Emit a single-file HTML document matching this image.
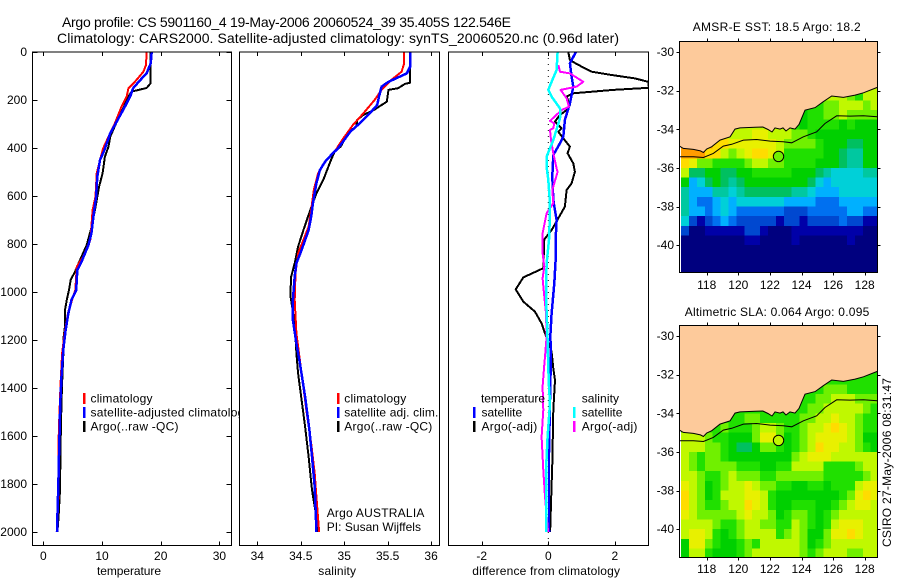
<!DOCTYPE html>
<html>
<head>
<meta charset="utf-8">
<title>Argo profile</title>
<style>
html,body{margin:0;padding:0;background:#fff;}
svg{display:block;}
text{font-family:"Liberation Sans",Arial,sans-serif;fill:#000;}
</style>
</head>
<body>
<svg id="fig" xmlns="http://www.w3.org/2000/svg" width="900" height="580" viewBox="0 0 900 580"></svg>
<script>
/* ---------- depth axis ---------- */
const depthTicks = [0,200,400,600,800,1000,1200,1400,1600,1800,2000];
const tempTicks = [0,10,20,30];
const salTicks = [34,34.5,35,35.5,36];
const salTickLabels = ['34','34.5','35','35.5','36'];
const diffTicks = [-2,0,2];
const lonTicks = [118,120,122,124,126,128];
const latTicks = [-30,-32,-34,-36,-38,-40];

/* ---------- temperature profiles ---------- */
const tempArgoDepth = [0,130,150,165,186,228,276,353,394,436,505,561,658,742,804,867,915,950,989,1033,1075,1142,1200,1262,1360,1457,1630,1825,1936,2000];
const tempArgo = [18.3,18.3,17.6,15.05,14.5,13.75,12.8,11.4,11.1,10.5,10.1,9.5,8.8,8.1,7.4,6.25,5.4,4.66,4.4,4.0,3.7,3.7,3.4,3.4,3.24,3.1,2.95,2.84,2.6,2.4];
const tempSatDepth = [0,47,89,117,151,179,228,290,339,415,450,519,603,672,756,804,874,908,992,1033,1090,1160,1240,1350,1460,1630,1810,1935,2000];
const tempSat = [18.47,18.3,17.6,16.5,15.3,14.9,13.9,12.5,11.4,10.3,9.66,9.2,9.0,8.6,8.2,7.7,6.5,5.8,5.6,4.8,4.26,3.8,3.4,3.1,2.9,2.73,2.56,2.4,2.33];
const tempClimDepth = [0,54,82,124,151,186,235,297,353,401,450,506,603,658,728,783,853,894,992,1026,1082,1160,1256,1380,1547,1658,1825,1964,2000];
const tempClim = [17.6,17.5,17.05,15.6,14.5,14.2,13.2,12.2,11.1,10.2,9.66,9.1,8.9,8.4,8.2,8.0,6.8,5.7,5.45,5.0,4.26,3.7,3.2,2.95,2.7,2.56,2.6,2.4,2.35];

/* ---------- salinity profiles ---------- */
const salArgoDepth = [0,128,133,151,158,207,221,244,262,283,311,332,394,415,457,533,589,658,742,811,880,936,1012,1061,1130,1255,1339,1450,1561,1686,1825,1894,1978,2000];
const salArgo = [35.76,35.76,35.70,35.62,35.51,35.49,35.43,35.33,35.22,35.15,35.14,35.05,34.96,34.89,34.84,34.76,34.68,34.61,34.53,34.47,34.43,34.39,34.38,34.40,34.43,34.45,34.47,34.51,34.55,34.59,34.63,34.66,34.70,34.70];
const salSatDepth = [0,61,89,106,124,144,186,221,249,290,332,401,429,457,492,547,631,686,742,825,880,936,1033,1117,1214,1297,1436,1575,1686,1811,1992,2000];
const salSat = [35.76,35.76,35.72,35.62,35.51,35.43,35.40,35.38,35.31,35.2,35.07,34.93,34.85,34.78,34.72,34.68,34.64,34.62,34.59,34.51,34.45,34.43,34.41,34.41,34.45,34.49,34.55,34.6,34.63,34.66,34.68,34.68];
const salClimDepth = [0,47,82,117,158,200,256,304,360,415,457,506,575,658,728,783,839,922,1033,1172,1339,1506,1631,1756,1853,1992,2000];
const salClim = [35.69,35.69,35.66,35.54,35.43,35.35,35.22,35.10,34.99,34.89,34.78,34.70,34.65,34.62,34.59,34.53,34.47,34.44,34.43,34.45,34.51,34.57,34.62,34.66,34.68,34.71,34.71];

/* ---------- differences from climatology ---------- */
const diffTempArgoDepth = [0,33,50,82,96,110,124,149,158,172,186,221,242,262,290,318,332,360,394,422,464,499,547,575,644,693,742,781,901,939,989,1040,1082,1131,1172,1249,1318,1367,1492,1714,1881,1978,2000];
const diffTempArgo = [0.6,0.65,0.85,1.3,1.9,2.6,3.0,3.02,1.95,0.75,0.55,0.65,0.55,0.35,0.2,0.4,0.3,0.45,0.65,0.58,0.75,0.8,0.7,0.55,0.5,0.3,0.1,-0.12,-0.15,-0.75,-0.98,-0.75,-0.4,-0.2,-0.1,0.1,0.15,0.2,0.15,0.12,0.08,0.06,0.05];
const diffTempSatDepth = [0,47,103,144,214,283,353,380,429,519,617,700,783,867,964,1089,1186,1249,1450,1672,1992,2000];
const diffTempSat = [0.83,0.65,0.7,0.75,0.65,0.5,0.45,0.35,0.15,0.12,0.15,0.25,0.22,0.22,0.18,0.1,0.06,0.08,0.05,0.02,0.02,0.02];
const diffSalSatDepth = [0,75,124,158,186,235,276,367,436,478,533,630,769,881,1019,1158,1318,1394,1464,1603,1742,1992,2000];
const diffSalSat = [0.28,0.25,0.1,0,0.1,0.35,0.35,0.15,-0.05,-0.05,0,0.05,0.03,-0.05,-0.07,-0.03,0,0.02,0.05,-0.02,-0.07,-0.07,-0.07];
const diffSalArgoDepth = [54,82,89,124,144,158,193,228,242,287,297,318,325,367,422,485,499,575,630,672,756,839,894,943,1019,1089,1186,1269,1318,1394,1492,1603,1742,1853,1978,2000];
const diffSalArgo = [0.3,0.35,0.65,1.05,0.85,0.37,0.55,0.62,0.4,0.05,0.18,0.15,0.05,0.08,0.15,0.25,0.28,0.12,0.15,-0.05,-0.17,-0.17,-0.12,-0.17,-0.12,-0.07,-0.05,-0.1,-0.13,-0.17,-0.15,-0.2,-0.15,-0.1,-0.02,0];

/* ---------- map data ---------- */
const coastLon = [116.27,116.52,117.16,117.6,117.79,118.0,118.32,118.84,119.48,119.79,120.11,121.06,121.56,121.88,122.13,122.32,122.64,122.83,123.02,123.27,123.59,123.84,124.22,124.86,125.38,125.91,126.65,127.39,127.92,128.8];
const coastLat = [-34.87,-34.99,-35.04,-35.12,-35.2,-35.02,-34.9,-34.56,-34.39,-33.99,-33.93,-33.9,-33.88,-34.01,-34.14,-33.93,-33.99,-33.93,-34.09,-33.93,-33.99,-33.75,-33.01,-32.88,-32.57,-32.28,-32.35,-32.23,-32.11,-31.83];
const shelfLon = [116.27,117.16,117.79,118.42,119.05,119.58,120.32,121.16,122.01,122.85,123.38,124.12,124.96,125.49,126.23,127.07,127.92,128.8];
const shelfLat = [-35.42,-35.42,-35.46,-35.25,-34.87,-34.78,-34.56,-34.53,-34.61,-34.65,-34.7,-34.39,-34.13,-33.7,-33.3,-33.32,-33.3,-33.35];
const argoLon = 122.546;
const argoLat = -35.405;
const sstArgoLevel = 10;
const slaArgoLevel = 11;
const levelColors = ['#00007f','#0000a8','#0048d0','#0070f0','#00b0ff','#00d0d8','#00c8a0','#00c060','#00d000','#20e000','#70f000','#c0f800','#e8f000','#ffdc00','#ff9c00'];

const sstGrid = [
[11,11,11,11,11,11,11,11,11,11,11,11,11,11,11,11,11,11,11,11,11,10,9,11,11],
[11,11,11,11,11,11,11,11,11,11,11,11,11,11,11,11,11,11,11,11,11,10,9,11,11],
[10,10,10,10,10,10,10,10,10,10,10,10,10,10,10,10,9,9,10,10,11,11,11,10,11],
[9,9,9,9,9,9,9,9,9,9,9,9,9,9,9,8,9,9,10,10,11,10,10,10,10],
[11,11,11,11,11,11,11,11,11,11,11,11,11,11,9,8,9,9,9,9,8,9,8,8,8],
[13,13,13,13,13,12,11,11,11,12,12,11,11,11,10,10,9,8,8,8,8,8,8,8,8],
[14,14,14,14,13,13,12,12,12,12,12,12,11,10,10,10,10,9,8,8,8,7,7,8,8],
[14,14,14,13,13,11,10,11,12,13,13,12,11,9,9,9,9,9,8,8,7,6,6,8,8],
[13,12,10,10,9,9,9,9,10,11,11,10,10,9,9,9,9,8,8,8,7,6,6,8,8],
[11,7,7,8,8,7,7,8,8,9,9,9,9,9,8,8,8,7,6,5,5,5,5,6,6],
[8,4,5,7,8,7,6,7,8,8,8,8,8,8,8,8,7,5,4,5,5,5,5,5,5],
[6,4,4,4,6,6,5,6,7,7,7,7,7,7,6,6,5,4,4,4,5,5,5,5,5],
[6,4,3,3,4,5,4,5,5,5,5,5,5,4,4,4,4,3,3,3,4,4,4,4,4],
[6,4,4,3,4,5,4,3,3,3,3,3,3,2,2,2,3,3,3,3,3,4,4,3,3],
[5,2,1,2,3,4,3,2,2,2,2,2,1,2,2,1,2,2,2,2,3,2,2,1,1],
[2,0,0,1,1,1,1,1,2,2,1,0,0,0,1,1,1,1,1,1,1,1,1,0,0],
[0,0,0,0,0,0,0,0,1,1,0,0,0,0,1,0,0,0,0,0,0,1,0,0,0],
[0,0,0,0,0,0,0,0,0,0,0,0,0,0,0,0,0,0,0,0,0,0,0,0,0],
[0,0,0,0,0,0,0,0,0,0,0,0,0,0,0,0,0,0,0,0,0,0,0,0,0],
[0,0,0,0,0,0,0,0,0,0,0,0,0,0,0,0,0,0,0,0,0,0,0,0,0]
];

const slaGrid = [
[9,9,9,9,9,9,9,9,9,9,9,9,9,9,9,9,9,9,9,9,9,9,9,9,9],
[9,9,9,9,9,9,9,9,9,9,9,9,9,9,9,9,9,9,9,9,9,9,9,9,9],
[9,9,9,9,9,9,9,9,9,9,9,9,9,9,9,9,9,9,10,10,10,9,9,9,9],
[9,9,9,9,9,9,9,9,9,9,9,9,9,9,9,9,9,10,10,11,11,11,10,10,10],
[9,9,9,9,9,9,9,9,9,9,9,9,9,9,9,9,10,10,11,11,11,11,11,10,9],
[9,9,9,9,9,9,9,9,10,10,9,9,9,9,9,10,10,11,11,12,11,11,10,9,9],
[9,9,9,9,9,10,9,9,9,10,11,11,10,9,9,10,11,11,12,13,12,11,10,9,9],
[11,11,11,10,9,9,8,8,8,10,12,12,10,8,9,10,11,12,12,12,12,11,10,8,8],
[11,11,11,10,10,9,8,7,7,8,10,10,9,8,9,10,11,13,12,12,11,11,10,9,8],
[11,10,9,10,10,9,8,8,8,8,8,8,8,8,10,11,12,12,12,11,11,11,11,11,11],
[11,10,9,10,10,10,10,9,9,9,8,8,9,9,11,11,11,11,9,9,9,9,10,11,11],
[11,11,10,9,9,10,11,10,10,10,9,9,10,10,10,10,10,10,9,9,9,9,9,10,11],
[12,11,10,8,9,10,11,11,12,11,10,10,9,9,8,8,9,9,8,9,9,9,11,12,12],
[13,11,10,8,9,11,11,11,12,12,11,9,8,8,8,8,8,8,8,8,9,10,12,13,12],
[13,11,10,9,9,10,11,11,13,12,11,9,8,8,9,9,9,8,8,9,10,11,12,12,11],
[12,11,10,10,10,10,10,11,12,11,11,10,8,9,10,10,9,8,9,10,11,11,11,11,11],
[11,11,11,11,10,9,9,10,11,11,10,10,9,9,11,10,9,8,9,11,12,12,12,11,11],
[11,12,12,11,9,8,9,10,11,11,11,11,9,10,11,10,8,8,10,12,12,13,12,11,11],
[8,12,12,10,9,8,8,9,10,9,11,11,11,11,11,10,8,9,10,11,11,11,11,11,11],
[8,11,11,9,8,8,8,9,10,11,11,11,11,11,11,10,9,10,11,11,11,10,10,11,11]
];

/* ---------- drawing ---------- */
const NS = 'http://www.w3.org/2000/svg';
const fig = document.getElementById('fig');

function make(tag, parent, attrs) {
  const el = document.createElementNS(NS, tag);
  for (const k in attrs) el.setAttribute(k, attrs[k]);
  parent.appendChild(el);
  return el;
}

function label(parent, x, y, str, name, anchor, len, size, rotate) {
  const el = make('text', parent, {x: x, y: y, 'font-size': size || 12, 'text-anchor': anchor || 'start'});
  if (len) {
    el.setAttribute('textLength', len);
    el.setAttribute('lengthAdjust', 'spacing');
  }
  if (rotate) el.setAttribute('transform', 'rotate(' + rotate + ' ' + x + ' ' + y + ')');
  
  
  el.textContent = str;
  return el;
}

function tick(parent, x1, y1, x2, y2, name) {
  const el = make('line', parent, {x1: x1, y1: y1, x2: x2, y2: y2, stroke: '#000', 'stroke-width': 1, 'shape-rendering': 'crispEdges'});
  
  
}

function frame(parent, x0, x1, y0, y1, name) {
  const el = make('rect', parent, {x: x0, y: y0, width: x1 - x0, height: y1 - y0, fill: 'none', stroke: '#000', 'stroke-width': 1, 'shape-rendering': 'crispEdges'});
  
  
}

const TOP = 52, BOTTOM = 545.5;
function yDepth(d) { return 52 + d * 0.24; }

function clipFor(id, x0, x1, y0, y1) {
  const c = make('clipPath', fig, {id: id});
  make('rect', c, {x: x0, y: y0, width: x1 - x0, height: y1 - y0});
  return 'url(#' + id + ')';
}

function panel(name, x0, x1, xScale, ticks, tickText, withDepth) {
  const g = make('g', fig, {});
  
  
  const bg = make('rect', g, {x: x0, y: TOP, width: x1 - x0, height: BOTTOM - TOP, fill: '#fff'});
  
  
  ticks.forEach(function (t, i) {
    const x = Math.round(xScale(t)) + 0.5;
    tick(g, x, TOP, x, TOP + 4, 'x-tick-top');
    tick(g, x, BOTTOM, x, BOTTOM - 4, 'x-tick-bottom');
    label(g, xScale(t), 560, tickText[i], 'x-tick-label', 'middle');
  });
  if (withDepth) {
    depthTicks.forEach(function (d) {
      const y = Math.round(yDepth(d)) + 0.5;
      tick(g, x0, y, x0 + 5, y, 'y-tick-left');
      tick(g, x1, y, x1 - 5, y, 'y-tick-right');
      label(g, 27, yDepth(d) + 4, String(d), 'depth-tick-label', 'end');
    });
  }
  return g;
}

function series(parent, clip, xScale, depths, values, color, width, name) {
  const pts = depths.map(function (d, i) { return xScale(values[i]).toFixed(1) + ',' + yDepth(d).toFixed(1); }).join(' ');
  const el = make('polyline', parent, {points: pts, fill: 'none', stroke: color, 'stroke-width': width, 'stroke-linejoin': 'round', 'shape-rendering': 'crispEdges', 'clip-path': clip});
  
  
}

function swatch(parent, x, y, color, name) {
  const el = make('rect', parent, {x: x, y: y, width: 2.5, height: 11, fill: color, 'shape-rendering': 'crispEdges'});
  
  
}

/* temperature panel */
function xTemp(v) { return 43.3 + v * 5.87; }
const clip1 = clipFor('clip-temp', 32.5, 231.5, TOP, BOTTOM);
const p1 = panel('temperature-panel', 32.5, 231.5, xTemp, tempTicks, tempTicks.map(String), true);
series(p1, clip1, xTemp, tempArgoDepth, tempArgo, '#000', 2, 'temperature-argo-line');
series(p1, clip1, xTemp, tempClimDepth, tempClim, '#ff0000', 2, 'temperature-climatology-line');
series(p1, clip1, xTemp, tempSatDepth, tempSat, '#0000ff', 2.5, 'temperature-satellite-line');
frame(p1, 32.5, 231.5, TOP, BOTTOM, 'temperature-axes-frame');
swatch(p1, 83, 393, '#ff0000', 'legend-swatch-climatology');
swatch(p1, 83, 407, '#0000ff', 'legend-swatch-satellite');
swatch(p1, 83, 421, '#000', 'legend-swatch-argo');
label(p1, 90.5, 402.5, 'climatology', 'legend-label-climatology', 'start', 62);
label(p1, 90.5, 416.5, 'satellite-adjusted climatology', 'legend-label-satellite', 'start', 160);
label(p1, 90.5, 430.5, 'Argo(..raw -QC)', 'legend-label-argo', 'start', 88);
label(p1, 97, 575, 'temperature', 'temperature-axis-title', 'start', 64);

/* salinity panel */
function xSal(v) { return 257.3 + (v - 34) * 86.9; }
const clip2 = clipFor('clip-sal', 239.5, 439.5, TOP, BOTTOM);
const p2 = panel('salinity-panel', 239.5, 439.5, xSal, salTicks, salTickLabels, false);
series(p2, clip2, xSal, salArgoDepth, salArgo, '#000', 2, 'salinity-argo-line');
series(p2, clip2, xSal, salClimDepth, salClim, '#ff0000', 2, 'salinity-climatology-line');
series(p2, clip2, xSal, salSatDepth, salSat, '#0000ff', 2.5, 'salinity-satellite-line');
frame(p2, 239.5, 439.5, TOP, BOTTOM, 'salinity-axes-frame');
swatch(p2, 337, 393, '#ff0000', 'legend-swatch-climatology');
swatch(p2, 337, 407, '#0000ff', 'legend-swatch-satellite');
swatch(p2, 337, 421, '#000', 'legend-swatch-argo');
label(p2, 344.3, 402.5, 'climatology', 'legend-label-climatology', 'start', 62);
label(p2, 344.3, 416.5, 'satellite adj. clim.', 'legend-label-satellite', 'start', 94);
label(p2, 344.3, 430.5, 'Argo(..raw -QC)', 'legend-label-argo', 'start', 88);
label(p2, 326.7, 517, 'Argo AUSTRALIA', 'float-program-label', 'start', 97.7);
label(p2, 326.7, 531, 'PI: Susan Wijffels', 'principal-investigator-label', 'start', 94.3);
label(p2, 318.3, 575, 'salinity', 'salinity-axis-title', 'start', 37.7);

/* difference panel */
function xDiff(v) { return 548.3 + v * 33.3; }
const clip3 = clipFor('clip-diff', 448.5, 648.5, TOP, BOTTOM);
const p3 = panel('difference-panel', 448.5, 648.5, xDiff, diffTicks, diffTicks.map(String), false);
const zeroLine = make('line', p3, {x1: xDiff(0), y1: TOP, x2: xDiff(0), y2: BOTTOM, stroke: '#000', 'stroke-width': 1, 'stroke-dasharray': '1 5'});


series(p3, clip3, xDiff, diffTempArgoDepth, diffTempArgo, '#000', 2, 'temperature-argo-difference-line');
series(p3, clip3, xDiff, diffTempSatDepth, diffTempSat, '#0000ff', 2.5, 'temperature-satellite-difference-line');
series(p3, clip3, xDiff, diffSalArgoDepth, diffSalArgo, '#ff00ff', 2, 'salinity-argo-difference-line');
series(p3, clip3, xDiff, diffSalSatDepth, diffSalSat, '#00ffff', 2.5, 'salinity-satellite-difference-line');
frame(p3, 448.5, 648.5, TOP, BOTTOM, 'difference-axes-frame');
swatch(p3, 473, 407, '#0000ff', 'legend-swatch-temperature-satellite');
swatch(p3, 473, 421, '#000', 'legend-swatch-temperature-argo');
swatch(p3, 573, 407, '#00ffff', 'legend-swatch-salinity-satellite');
swatch(p3, 573, 421, '#ff00ff', 'legend-swatch-salinity-argo');
label(p3, 481, 402.5, 'temperature', 'legend-heading-temperature', 'start', 64);
label(p3, 481.5, 416.5, 'satellite', 'legend-label-temperature-satellite', 'start', 40.7);
label(p3, 481.5, 430.5, 'Argo(-adj)', 'legend-label-temperature-argo', 'start', 55.7);
label(p3, 581.7, 402.5, 'salinity', 'legend-heading-salinity', 'start', 37.3);
label(p3, 581.7, 416.5, 'satellite', 'legend-label-salinity-satellite', 'start', 40.7);
label(p3, 581.7, 430.5, 'Argo(-adj)', 'legend-label-salinity-argo', 'start', 55.7);
label(p3, 472.3, 575, 'difference from climatology', 'difference-axis-title', 'start', 147.7);

/* maps */
function drawMap(name, grid, top, bottom, lat30Y, argoLevel, titleStr, titleX, titleLen, titleY, lonLabelY) {
  const L = 679.5, R = 877.5;
  function xLon(lon) { return 706.7 + (lon - 118) * 15.8; }
  function yLat(lat) { return lat30Y + (-30 - lat) * 19.32; }
  const g = make('g', fig, {});
  
  
  const clip = clipFor('clip-' + name, L, R, top, bottom);
  const cells = make('g', g, {'clip-path': clip});
  
  
  grid.forEach(function (row, j) {
    row.forEach(function (level, i) {
      const lon0 = 116.38 + i * 0.5;
      const lat0 = -31.5 - j * 0.5;
      const x = xLon(lon0), y = yLat(lat0);
      const cell = make('rect', cells, {x: x, y: y, width: xLon(lon0 + 0.5) - x + 0.5, height: yLat(lat0 - 0.5) - y + 0.5, fill: levelColors[level], 'shape-rendering': 'crispEdges'});
      
      
    });
  });
  const landPts = coastLon.map(function (lon, i) { return xLon(lon).toFixed(1) + ',' + yLat(coastLat[i]).toFixed(1); });
  landPts.push(R + ',' + top);
  landPts.push(L + ',' + top);
  const land = make('polygon', g, {points: landPts.join(' '), fill: '#fdca9b', 'clip-path': clip});
  
  
  const coast = make('polyline', g, {points: coastLon.map(function (lon, i) { return xLon(lon).toFixed(1) + ',' + yLat(coastLat[i]).toFixed(1); }).join(' '), fill: 'none', stroke: '#000', 'stroke-width': 1, 'clip-path': clip});
  
  
  const shelf = make('polyline', g, {points: shelfLon.map(function (lon, i) { return xLon(lon).toFixed(1) + ',' + yLat(shelfLat[i]).toFixed(1); }).join(' '), fill: 'none', stroke: '#000', 'stroke-width': 1, 'clip-path': clip});
  
  
  const marker = make('circle', g, {cx: xLon(argoLon), cy: yLat(argoLat), r: 5.2, fill: levelColors[argoLevel], stroke: '#000', 'stroke-width': 1});
  
  
  frame(g, L, R, top, bottom, name + '-frame');
  lonTicks.forEach(function (lon) {
    const x = Math.round(xLon(lon)) + 0.5;
    tick(g, x, top, x, top - 3, 'lon-tick-top');
    tick(g, x, bottom, x, bottom + 3, 'lon-tick-bottom');
    label(g, xLon(lon), lonLabelY, String(lon), 'longitude-tick-label', 'middle');
  });
  latTicks.forEach(function (lat) {
    const y = Math.round(yLat(lat)) + 0.5;
    tick(g, L, y, L - 3, y, 'lat-tick-left');
    tick(g, R, y, R + 3, y, 'lat-tick-right');
    label(g, 674, yLat(lat) + 4, String(lat), 'latitude-tick-label', 'end');
  });
  label(g, titleX, titleY, titleStr, name + '-title', 'start', titleLen);
}

drawMap('sst-map', sstGrid, 41.5, 272.5, 52, sstArgoLevel, 'AMSR-E SST: 18.5 Argo: 18.2', 692.7, 168, 31, 289);
drawMap('sla-map', slaGrid, 325.5, 557.5, 336, slaArgoLevel, 'Altimetric SLA: 0.064 Argo: 0.095', 684.7, 184.6, 316, 573);

/* titles */
label(fig, 62, 27, 'Argo profile: CS 5901160_4 19-May-2006 20060524_39 35.405S 122.546E', 'figure-title-line-1', 'start', 449, 14);
label(fig, 57, 43, 'Climatology: CARS2000. Satellite-adjusted climatology: synTS_20060520.nc (0.96d later)', 'figure-title-line-2', 'start', 562, 14);
label(fig, 891, 547, 'CSIRO 27-May-2006 08:31:47', 'creation-timestamp', 'start', 169, 12, -90);
</script>
</body>
</html>
